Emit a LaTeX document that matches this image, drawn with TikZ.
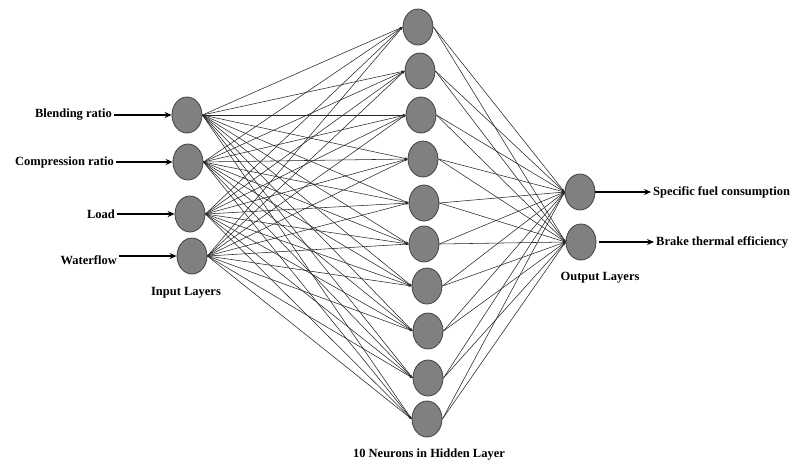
\documentclass[tikz,border=0pt]{standalone}
\usepackage{fontspec}
\setmainfont{Liberation Serif}
\usetikzlibrary{shapes.geometric,arrows.meta}
\tikzset{
  neuron/.style={ellipse,draw=black!75,line width=0.8pt,fill=black!50,minimum width=30pt,minimum height=36pt,inner sep=0pt},
  lbl/.style={font=\fontsize{12.5}{14}\selectfont\bfseries,inner sep=2pt},
  link/.style={draw=black!85,line width=0.55pt,-{Stealth[length=3pt,width=2.4pt]}},
  ioarrow/.style={draw=black,line width=1.1pt,-{Stealth[length=7pt,width=6pt]}}
}
\begin{document}
\begin{tikzpicture}[x=1pt,y=-1pt]
\useasboundingbox (0,0) rectangle (795,464);
% input nodes
\node[neuron] (i1) at (187,115) {};
\node[neuron] (i2) at (188,162) {};
\node[neuron] (i3) at (190,214) {};
\node[neuron] (i4) at (192,256) {};
% hidden nodes
\node[neuron] (h1) at (418,27) {};
\node[neuron] (h2) at (420,71) {};
\node[neuron] (h3) at (421,115) {};
\node[neuron] (h4) at (423,159) {};
\node[neuron] (h5) at (424,203) {};
\node[neuron] (h6) at (424,244) {};
\node[neuron] (h7) at (427,286) {};
\node[neuron] (h8) at (428,331) {};
\node[neuron] (h9) at (428,378) {};
\node[neuron] (h10) at (427,419) {};
% output nodes
\node[neuron] (o1) at (580,192) {};
\node[neuron] (o2) at (581,242) {};
% labels
\node[lbl,anchor=east] (l1) at (114,115) {Blending ratio};
\node[lbl,anchor=east] (l2) at (116,162) {Compression ratio};
\node[lbl,anchor=east] (l3) at (117,214) {Load};
\node[lbl,anchor=east] (l4) at (119,260) {Waterflow};
\node[lbl,anchor=west] (r1) at (651,192) {Specific fuel consumption};
\node[lbl,anchor=west] (r2) at (654,242) {Brake thermal efficiency};
\node[lbl] (tin) at (186,293) {Input Layers};
\node[lbl] (thid) at (429,455) {10 Neurons in Hidden Layer};
\node[lbl] (tout) at (600,278) {Output Layers};
% connections
\foreach \i in {1,...,4}{
  \foreach \h in {1,...,10}{
    \draw[link] (i\i.east) -- (h\h.west);
  }
}
\foreach \h in {1,...,10}{
  \foreach \o in {1,2}{
    \draw[link] (h\h.east) -- (o\o.west);
  }
}
% io arrows
\draw[ioarrow] (l1.east) -- (i1.west);
\draw[ioarrow] (l2.east) -- (i2.west);
\draw[ioarrow] (l3.east) -- (i3.west);
\draw[ioarrow] (l4.east |- i4.west) -- (i4.west);
\draw[ioarrow] (o1.east) -- (r1.west);
\draw[ioarrow] ([xshift=3pt]o2.east) -- (r2.west);
\end{tikzpicture}
\end{document}
